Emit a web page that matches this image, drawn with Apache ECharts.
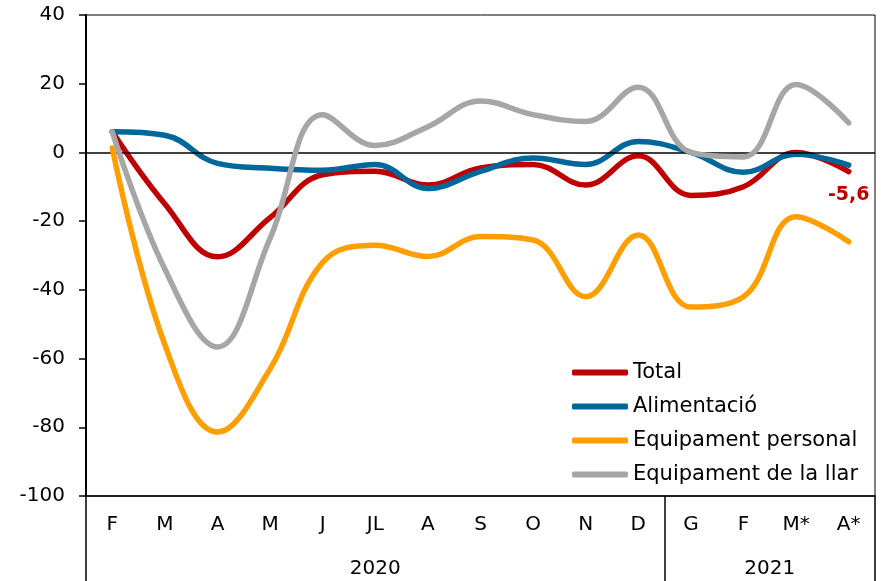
<!DOCTYPE html>
<html>
<head>
<meta charset="utf-8">
<script src="https://cdn.jsdelivr.net/npm/echarts@6/dist/echarts.min.js"></script>
<style>html,body{margin:0;padding:0;background:#fff}#c{width:881px;height:581px}</style>
</head>
<body>
<div id="c"></div>
<script>
const months = ['F','M','A','M','J','JL','A','S','O','N','D','G','F','M*','A*'];
const years = ['2020','2021'];
const yearCenters = [5.5, 13];
const yearBreaks = [0, 11, 15];
const yTicks = {min: -100, max: 40, interval: 20};

const total = [6, -15, -30.4, -19, -6.5, -5.5, -9.5, -4.5, -3.5, -9.5, -1, -12.5, -10, 0, -5.6];
const alimentacio = [6, 5, -3.2, -4.6, -5.2, -3.5, -10.5, -5.5, -1.6, -3.5, 3.2, 0, -5.8, -0.5, -3.7];
const equipPersonal = [1.3, -56, -81.4, -63, -32, -27, -30.3, -24.5, -25.5, -42, -24, -45, -42, -18.7, -26];
const equipLlar = [6, -34, -56.6, -25, 11, 2, 7.5, 15, 11, 9, 19, 0, -1.3, 19.8, 8.6];

const names = ['Total','Alimentació','Equipament personal','Equipament de la llar'];
const colors = ['#C00000','#00679A','#FF9E00','#A6A6A6'];
const FONT = 'DejaVu Sans, sans-serif';

const chart = echarts.init(document.getElementById('c'), null, {renderer: 'canvas'});

function lineSeries(name, data, color, z) {
  return {
    name: name, type: 'line', data: data, smooth: 0.4, z: z,
    symbol: 'circle', symbolSize: 0.1, showSymbol: true,
    lineStyle: {color: color, width: 5.5, cap: 'round', join: 'round'},
    itemStyle: {color: color},
    emphasis: {disabled: true}
  };
}

const lastIdx = total.length - 1;
const totalSeries = lineSeries(names[0], total.map((v, i) => i === lastIdx ? {
  value: v,
  label: {show: true, position: 'bottom', distance: 14,
    formatter: () => String(v).replace('.', ','),
    color: '#C00000', fontWeight: 'bold', fontSize: 19, fontFamily: FONT}
} : v), colors[0], 3);

const option = {
  animation: false,
  backgroundColor: '#fff',
  grid: {left: 86, right: 6, top: 15, bottom: 85, show: true, borderColor: '#000', borderWidth: 1, backgroundColor: 'transparent'},
  legend: {
    orient: 'vertical', left: 572, top: 362, itemGap: 13, padding: 0,
    itemWidth: 56, itemHeight: 6, icon: 'roundRect',
    data: names,
    textStyle: {fontSize: 21, color: '#000', fontFamily: FONT}
  },
  xAxis: [
    {
      type: 'category', data: months, boundaryGap: true,
      axisLine: {show: true, onZero: false, lineStyle: {color: '#000', width: 1.5}},
      axisTick: {show: false},
      axisLabel: {interval: 0, margin: 19, fontSize: 20, color: '#000', fontFamily: FONT},
      splitLine: {show: false}
    },
    {
      type: 'value', min: 0, max: 15, position: 'bottom',
      axisLine: {show: false, onZero: false},
      splitLine: {show: false},
      axisTick: {show: true, inside: false, length: 85, customValues: yearBreaks, lineStyle: {color: '#000', width: 1.5}},
      axisLabel: {show: true, margin: 63, fontSize: 20, color: '#000', fontFamily: FONT,
        customValues: yearCenters,
        formatter: (v) => { const i = yearCenters.indexOf(v); return i >= 0 ? years[i] : ''; }}
    }
  ],
  yAxis: {
    type: 'value', min: yTicks.min, max: yTicks.max, interval: yTicks.interval,
    axisLine: {show: true, lineStyle: {color: '#000', width: 2}},
    axisTick: {show: true, length: 7, lineStyle: {color: '#000', width: 1.5}},
    axisLabel: {margin: 21, fontSize: 20, color: '#000', fontFamily: FONT},
    splitLine: {show: false}
  },
  series: [
    {
      type: 'line', data: [], z: 1, silent: true,
      markLine: {silent: true, symbol: 'none', label: {show: false},
        lineStyle: {color: '#000', width: 1.5, type: 'solid'},
        data: [{yAxis: 0}]}
    },
    totalSeries,
    lineSeries(names[1], alimentacio, colors[1], 4),
    lineSeries(names[2], equipPersonal, colors[2], 5),
    lineSeries(names[3], equipLlar, colors[3], 6)
  ]
};
chart.setOption(option);
</script>
</body>
</html>
